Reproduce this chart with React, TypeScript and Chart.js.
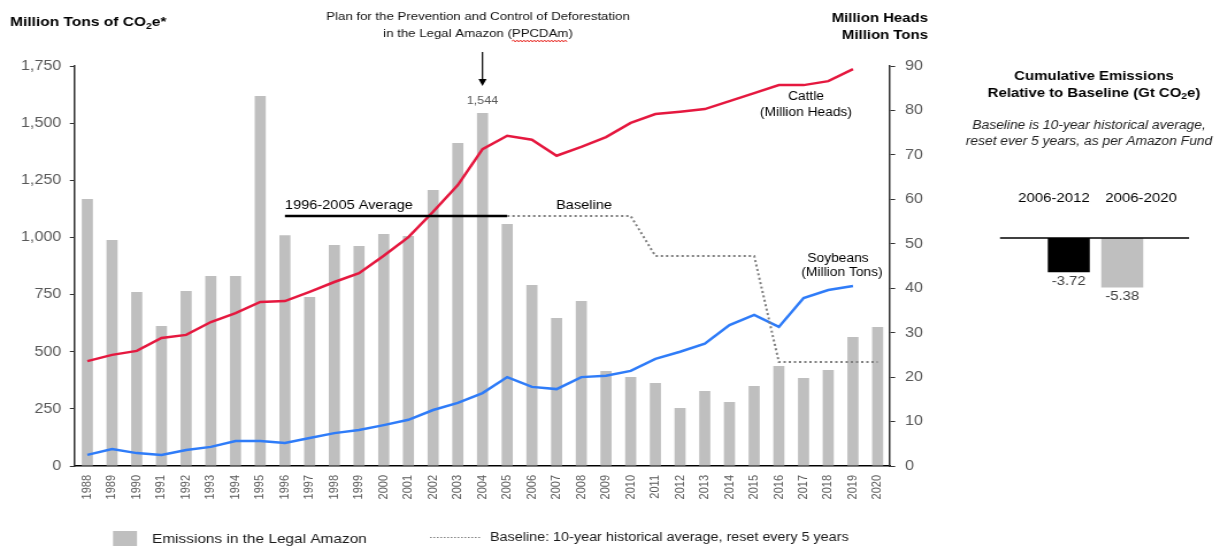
import React, { useEffect, useRef } from 'react';
import { Chart, registerables } from 'chart.js';
Chart.register(...registerables);

const years = ['1988','1989','1990','1991','1992','1993','1994','1995','1996','1997','1998','1999','2000','2001','2002','2003','2004','2005','2006','2007','2008','2009','2010','2011','2012','2013','2014','2015','2016','2017','2018','2019','2020'];
const emissions = [1168, 989, 761, 612, 766, 831, 831, 1619, 1010, 739, 967, 962, 1015, 1006, 1207, 1413, 1544, 1059, 792, 647, 722, 416, 389, 363, 254, 328, 280, 350, 437, 385, 420, 564, 608];
const cattle = [23.6, 25.0, 25.9, 28.8, 29.5, 32.4, 34.4, 36.9, 37.1, 39.2, 41.4, 43.4, 47.3, 51.5, 57.2, 63.2, 71.3, 74.3, 73.4, 69.8, 71.8, 74.0, 77.2, 79.2, 79.7, 80.3, 82.1, 83.9, 85.7, 85.7, 86.6, 89.3, null];
const soybeans = [2.5, 3.8, 2.9, 2.5, 3.6, 4.3, 5.6, 5.6, 5.2, 6.3, 7.4, 8.1, 9.2, 10.4, 12.6, 14.2, 16.4, 20.0, 17.8, 17.3, 20.0, 20.3, 21.4, 24.1, 25.7, 27.5, 31.7, 34.0, 31.3, 37.8, 39.6, 40.5, null];
const average9605 = [null, null, null, null, null, null, null, null, 1094, 1094, 1094, 1094, 1094, 1094, 1094, 1094, 1094, 1094, null, null, null, null, null, null, null, null, null, null, null, null, null, null, null];
const baseline = [null, null, null, null, null, null, null, null, null, null, null, null, null, null, null, null, null, 1094, 1094, 1094, 1094, 1094, 1094, 919, 919, 919, 919, 919, 455, 455, 455, 455, 455];
const peakLabel = '1,544';
const peakIndex = 16;
const panelCategories = ['2006-2012', '2006-2020'];
const panelValues = [-3.72, -5.38];
const panelLabels = ['-3.72', '-5.38'];

const FONT = '"Liberation Sans", Arial, Helvetica, sans-serif';
const H = 546;
const MAIN_W = 945;
const MAIN_IW = 822;
const S = MAIN_W / MAIN_IW;
const PANEL_W = 282;
const PANEL_IW = 245;
const S2 = PANEL_W / PANEL_IW;
const X = (css: number) => css / S;
const PX = (css: number) => (css - MAIN_W) / S2;

type Part = { t: string; sub?: boolean };
function rich(ctx: CanvasRenderingContext2D, parts: Part[], x: number, y: number, align: string, size: number, weight: string, color: string) {
  const f = (sub?: boolean) => `${weight} ${sub ? Math.round(size * 0.7) : size}px ${FONT}`;
  let total = 0;
  for (const p of parts) { ctx.font = f(p.sub); total += ctx.measureText(p.t).width; }
  let cx = align === 'center' ? x - total / 2 : align === 'right' ? x - total : x;
  ctx.textAlign = 'left';
  ctx.textBaseline = 'middle';
  ctx.fillStyle = color;
  for (const p of parts) {
    ctx.font = f(p.sub);
    ctx.fillText(p.t, cx, p.sub ? y + size * 0.3 : y);
    cx += ctx.measureText(p.t).width;
  }
}
function text(ctx: CanvasRenderingContext2D, t: string, x: number, y: number, align: CanvasTextAlign, font: string, color: string) {
  ctx.font = font;
  ctx.textAlign = align;
  ctx.textBaseline = 'middle';
  ctx.fillStyle = color;
  ctx.fillText(t, x, y);
}

const mainPlugin = {
  id: 'mainAnnotations',
  afterDraw(chart: any) {
    const ctx: CanvasRenderingContext2D = chart.ctx;
    const xs = chart.scales.x;
    const ys = chart.scales.y;
    ctx.save();
    // titles
    rich(ctx, [{ t: 'Million Tons of CO' }, { t: '2', sub: true }, { t: 'e*' }], X(10), 22, 'left', 13.5, 'bold', '#000');
    text(ctx, 'Million Heads', X(928), 18, 'right', `bold 13px ${FONT}`, '#000');
    text(ctx, 'Million Tons', X(928), 35, 'right', `bold 13px ${FONT}`, '#000');
    // policy annotation
    const ac = X(478);
    const aFont = `11.5px ${FONT}`;
    text(ctx, 'Plan for the Prevention and Control of Deforestation', ac, 17, 'center', aFont, '#111');
    const l2 = 'in the Legal Amazon (PPCDAm)';
    text(ctx, l2, ac, 34, 'center', aFont, '#111');
    ctx.font = aFont;
    const w2 = ctx.measureText(l2).width;
    const pre = ctx.measureText('in the Legal Amazon (').width;
    const pw = ctx.measureText('PPCDAm').width;
    const ws = ac - w2 / 2 + pre;
    ctx.beginPath();
    ctx.strokeStyle = '#e8302a';
    ctx.lineWidth = 1;
    let up = true;
    ctx.moveTo(ws, 41);
    for (let px = ws + 1.5; px <= ws + pw; px += 1.5) { ctx.lineTo(px, up ? 40 : 42); up = !up; }
    ctx.stroke();
    // arrow
    const axp = xs.getPixelForValue(peakIndex);
    ctx.beginPath();
    ctx.strokeStyle = '#000';
    ctx.lineWidth = 1.2;
    ctx.moveTo(axp, 52);
    ctx.lineTo(axp, 80);
    ctx.stroke();
    ctx.beginPath();
    ctx.fillStyle = '#000';
    ctx.moveTo(axp - 3.5, 79);
    ctx.lineTo(axp + 3.5, 79);
    ctx.lineTo(axp, 86);
    ctx.closePath();
    ctx.fill();
    text(ctx, peakLabel, axp, ys.getPixelForValue(emissions[peakIndex]) - 12, 'center', `11px ${FONT}`, '#595959');
    // series labels
    const lf = `12px ${FONT}`;
    text(ctx, '1996-2005 Average', xs.getPixelForValue(8), 205, 'left', `12.7px ${FONT}`, '#000');
    text(ctx, 'Baseline', X(584), 205, 'center', `12.7px ${FONT}`, '#000');
    text(ctx, 'Cattle', X(806), 97, 'center', lf, '#000');
    text(ctx, '(Million Heads)', X(806), 113, 'center', lf, '#000');
    text(ctx, 'Soybeans', X(838), 259, 'center', lf, '#000');
    text(ctx, '(Million Tons)', X(842), 273, 'center', lf, '#000');
    // legend
    ctx.fillStyle = '#bfbfbf';
    ctx.fillRect(X(113), 531, X(137) - X(113), 16);
    text(ctx, 'Emissions in the Legal Amazon', X(152), 539, 'left', `13.4px ${FONT}`, '#1a1a1a');
    ctx.beginPath();
    ctx.strokeStyle = '#808080';
    ctx.lineWidth = 1;
    ctx.setLineDash([1.5, 1.5]);
    ctx.moveTo(X(430), 537.5);
    ctx.lineTo(X(480), 537.5);
    ctx.stroke();
    ctx.setLineDash([]);
    text(ctx, 'Baseline: 10-year historical average, reset every 5 years', X(490), 538, 'left', `12.5px ${FONT}`, '#1a1a1a');
    ctx.restore();
  },
};

const panelPlugin = {
  id: 'panelAnnotations',
  afterDraw(chart: any) {
    const ctx: CanvasRenderingContext2D = chart.ctx;
    const ys = chart.scales.y;
    ctx.save();
    const c = PX(1094);
    text(ctx, 'Cumulative Emissions', c, 76, 'center', `bold 13px ${FONT}`, '#000');
    rich(ctx, [{ t: 'Relative to Baseline (Gt CO' }, { t: '2', sub: true }, { t: 'e)' }], c, 93, 'center', 13, 'bold', '#000');
    text(ctx, 'Baseline is 10-year historical average,', PX(1089), 126, 'center', `italic 12px ${FONT}`, '#222');
    text(ctx, 'reset ever 5 years, as per Amazon Fund', PX(1089), 142, 'center', `italic 12px ${FONT}`, '#222');
    text(ctx, panelCategories[0], PX(1054), 198, 'center', `13px ${FONT}`, '#000');
    text(ctx, panelCategories[1], PX(1141), 198, 'center', `13px ${FONT}`, '#000');
    const z = ys.getPixelForValue(0);
    ctx.beginPath();
    ctx.strokeStyle = '#000';
    ctx.lineWidth = 1.3;
    ctx.moveTo(PX(1000), z);
    ctx.lineTo(PX(1189), z);
    ctx.stroke();
    const meta = chart.getDatasetMeta(0);
    meta.data.forEach((bar: any, i: number) => {
      text(ctx, panelLabels[i], bar.x, bar.y + 9, 'center', `13px ${FONT}`, '#404040');
    });
    ctx.restore();
  },
};

export default function App() {
  const mainRef = useRef<HTMLCanvasElement>(null);
  const panelRef = useRef<HTMLCanvasElement>(null);

  useEffect(() => {
    Chart.defaults.font.family = FONT;
    const tickFont = { family: FONT, size: 14 };
    const main = new Chart(mainRef.current as HTMLCanvasElement, {
      type: 'bar',
      data: {
        labels: years,
        datasets: [
          { type: 'line', label: 'Baseline', data: baseline as any, yAxisID: 'y', borderColor: '#7f7f7f', borderWidth: 2, borderDash: [2, 2.5], pointRadius: 0, tension: 0, order: 1 } as any,
          { type: 'line', label: '1996-2005 Average', data: average9605 as any, yAxisID: 'y', borderColor: '#000', borderWidth: 2.5, pointRadius: 0, tension: 0, order: 2 } as any,
          { type: 'line', label: 'Cattle', data: cattle as any, yAxisID: 'y1', borderColor: '#e5183f', borderWidth: 2.5, pointRadius: 0, tension: 0, order: 3 } as any,
          { type: 'line', label: 'Soybeans', data: soybeans as any, yAxisID: 'y1', borderColor: '#2f7cf8', borderWidth: 2.5, pointRadius: 0, tension: 0, order: 4 } as any,
          { type: 'bar', label: 'Emissions in the Legal Amazon', data: emissions, yAxisID: 'y', backgroundColor: '#bfbfbf', barPercentage: 0.45, categoryPercentage: 1, order: 10 } as any,
        ],
      },
      options: {
        responsive: false,
        animation: false,
        events: [],
        layout: { padding: { top: 66, left: 0, right: 0, bottom: 0 } },
        plugins: { legend: { display: false }, tooltip: { enabled: false }, title: { display: false } },
        scales: {
          x: {
            offset: true,
            grid: { display: false, drawTicks: false },
            border: { display: true, color: '#000', width: 1.5 },
            ticks: { autoSkip: false, minRotation: 90, maxRotation: 90, padding: 9, color: '#595959', font: { family: FONT, size: 11 } },
            afterFit: (s: any) => { s.height = 80; },
          },
          y: {
            position: 'left',
            min: 0,
            max: 1750,
            grid: { display: true, drawOnChartArea: false, drawTicks: true, tickLength: 4.5, color: '#333', lineWidth: 1 },
            border: { display: true, color: '#333', width: 1.5 },
            ticks: { stepSize: 250, padding: 7.5, color: '#595959', font: tickFont, callback: (v: any) => Number(v).toLocaleString('en-US') },
            afterFit: (s: any) => { s.width = X(75); },
          },
          y1: {
            position: 'right',
            min: 0,
            max: 90,
            grid: { display: true, drawOnChartArea: false, drawTicks: true, tickLength: 4.5, color: '#333', lineWidth: 1 },
            border: { display: true, color: '#333', width: 1.5 },
            ticks: { stepSize: 10, padding: 8.5, color: '#595959', font: tickFont },
            afterFit: (s: any) => { s.width = MAIN_IW - X(890); },
          },
        },
      },
      plugins: [mainPlugin],
    } as any);

    const panel = new Chart(panelRef.current as HTMLCanvasElement, {
      type: 'bar',
      data: {
        labels: panelCategories,
        datasets: [
          { label: 'Cumulative Emissions Relative to Baseline', data: panelValues, backgroundColor: ['#000000', '#bfbfbf'], barPercentage: 0.785, categoryPercentage: 1 },
        ],
      },
      options: {
        responsive: false,
        animation: false,
        events: [],
        layout: { padding: { top: 238, bottom: H - 311.6, left: PX(1042), right: PANEL_IW - PX(1149) } },
        plugins: { legend: { display: false }, tooltip: { enabled: false } },
        scales: {
          x: { display: false },
          y: { display: false, min: -8, max: 0 },
        },
      },
      plugins: [panelPlugin],
    } as any);

    return () => {
      main.destroy();
      panel.destroy();
    };
  }, []);

  return (
    <div style={{ position: 'absolute', left: 0, top: 0, width: 1227, height: H, background: '#fff', overflow: 'hidden' }}>
      <canvas ref={mainRef} width={MAIN_IW} height={H} style={{ position: 'absolute', left: 0, top: 0, width: MAIN_W + 'px', height: H + 'px' }} />
      <canvas ref={panelRef} width={PANEL_IW} height={H} style={{ position: 'absolute', left: MAIN_W, top: 0, width: PANEL_W + 'px', height: H + 'px' }} />
    </div>
  );
}
